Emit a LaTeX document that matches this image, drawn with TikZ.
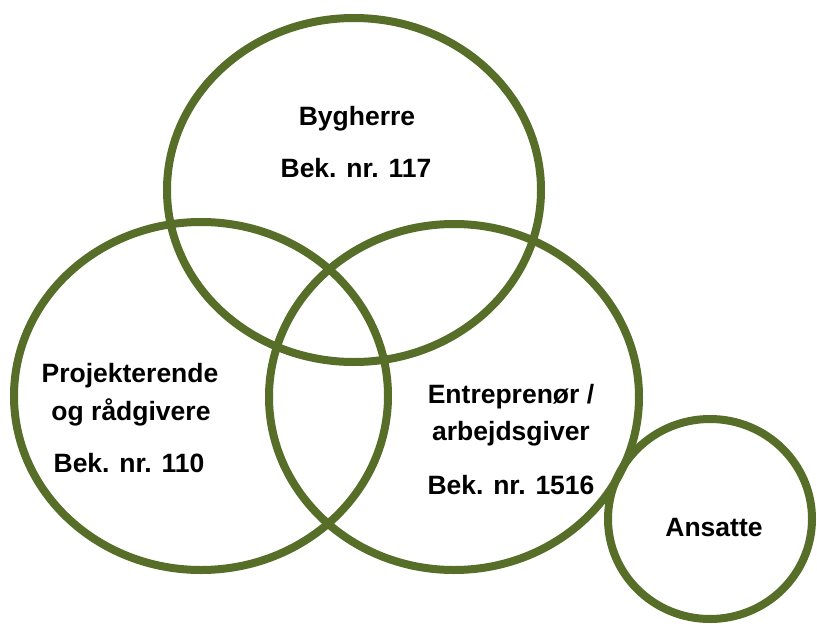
\documentclass[tikz,border=0pt]{standalone}
\usepackage{fontspec}
\setmainfont{Liberation Sans}
\usetikzlibrary{shapes.geometric}
\definecolor{ringgreen}{RGB}{86,110,40}
\tikzset{
  ring/.style={ellipse, draw=ringgreen, line width=8pt, inner sep=0pt},
  lbl/.style={anchor=base, inner sep=0pt, font=\fontsize{26.5pt}{32pt}\selectfont\bfseries}
}
\begin{document}
\begin{tikzpicture}[x=1pt,y=-1pt]
  \useasboundingbox[fill=white] (0,0) rectangle (817,624);
  % the three overlapping rings and the small one beside them
  \node[ring, minimum width=374pt, minimum height=344pt] (bygherre) at (354,190) {};
  \node[ring, minimum width=374pt, minimum height=348pt] (projekt) at (201,396) {};
  \node[ring, minimum width=370pt, minimum height=346pt] (entrep) at (454,397) {};
  \node[ring, minimum width=204pt, minimum height=200pt] (ansatte) at (710,519) {};
  % labels
  \node[lbl] (byg1) at (357,125) {Bygherre};
  \node[lbl] (byg2) at (356,177) {Bek. nr. 117};
  \node[lbl] (pro1) at (130,382) {Projekterende};
  \node[lbl] (pro2) at (131,420) {og rådgivere};
  \node[lbl] (pro3) at (129,472) {Bek. nr. 110};
  \node[lbl] (ent1) at (511,403) {Entreprenør /};
  \node[lbl] (ent2) at (511,440) {arbejdsgiver};
  \node[lbl] (ent3) at (511,494) {Bek. nr. 1516};
  \node[lbl] (ans1) at (714,536) {Ansatte};
\end{tikzpicture}
\end{document}
